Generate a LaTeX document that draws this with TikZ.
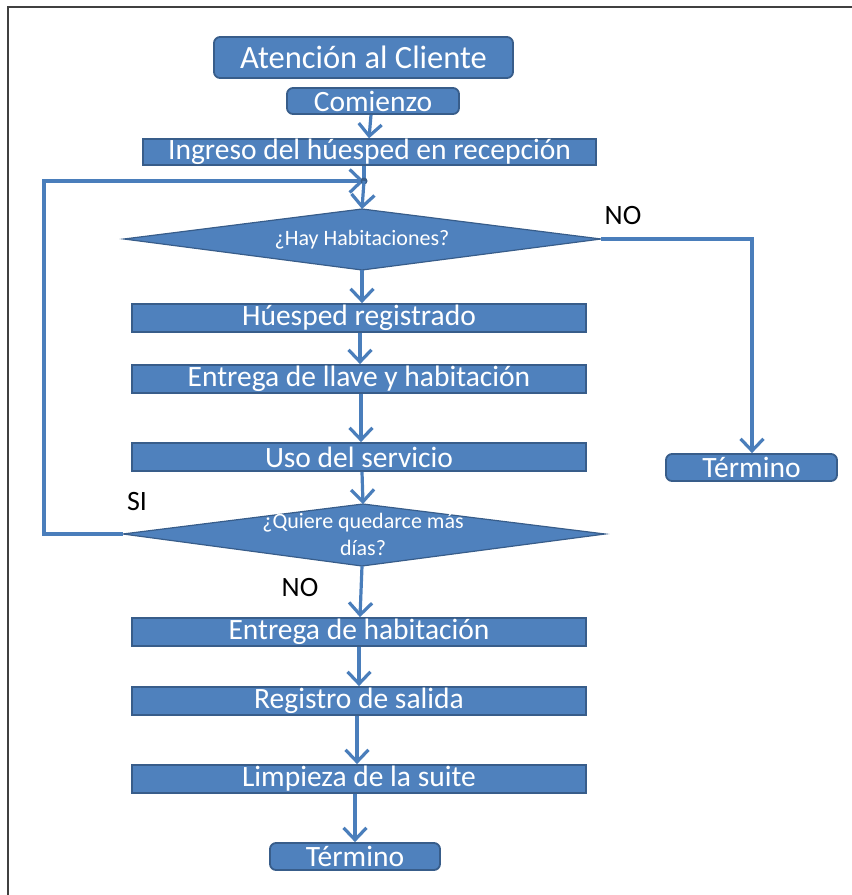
\documentclass[tikz,border=0pt]{standalone}
\usepackage{fontspec}
\setmainfont{Carlito}
\usetikzlibrary{arrows.meta}

\definecolor{boxfill}{HTML}{4F81BD}
\definecolor{boxedge}{HTML}{385D8A}
\definecolor{flow}{HTML}{4A7EBB}
\definecolor{frameline}{HTML}{404040}

\tikzset{
  stepbox/.style={draw=boxedge, line width=1.8pt, fill=boxfill, text=white,
    inner sep=0pt, font=\fontsize{29.5}{30}\selectfont},
  roundbox/.style={stepbox, rounded corners=6pt},
  decision/.style={draw=boxedge, line width=1.2pt, fill=boxfill},
  decisiontext/.style={text=white, align=center, inner sep=0pt,
    font=\fontsize{22}{27}\selectfont},
  answer/.style={text=black, inner sep=0pt, font=\fontsize{28}{30}\selectfont},
  flowline/.style={draw=flow, line width=3.2pt,
    -{Straight Barb[length=12pt, width=23pt, line width=3.2pt]}},
  plainline/.style={draw=flow, line width=3.2pt},
}

\begin{document}
\begin{tikzpicture}[x=1pt, y=-1pt]
  \useasboundingbox (0,0) rectangle (852,895);

  % frame (top and left edges)
  \draw[frameline, line width=2.2pt] (8,895) -- (8,7) -- (852,7);

  % header and start
  \node[roundbox, minimum width=299pt, minimum height=41pt,
        font=\fontsize{32.5}{34}\selectfont] (title) at (363.5,57.5) {Atención al Cliente};
  \node[roundbox, minimum width=172pt, minimum height=26pt] (start) at (373,101) {Comienzo};
  \node[stepbox, minimum width=453pt, minimum height=24pt] (checkin) at (369.5,152) {Ingreso del húesped en recepción};

  % first decision
  \coordinate (d1n) at (362,209);
  \coordinate (d1s) at (362,270);
  \coordinate (d1w) at (124,239);
  \coordinate (d1e) at (601,239);
  \path[decision] (d1n) -- (d1e) -- (d1s) -- (d1w) -- cycle;
  \node[decisiontext] (q1) at (362,240) {¿Hay Habitaciones?};

  % main column
  \node[stepbox, minimum width=454pt, minimum height=28pt] (reg)   at (359,318) {Húesped registrado};
  \node[stepbox, minimum width=454pt, minimum height=28pt] (keys)  at (359,379) {Entrega de llave y habitación};
  \node[stepbox, minimum width=454pt, minimum height=28pt] (use)   at (359,457) {Uso del servicio};

  % second decision
  \coordinate (d2n) at (363,504);
  \coordinate (d2s) at (362,566);
  \coordinate (d2w) at (123,534);
  \coordinate (d2e) at (605,534);
  \path[decision] (d2n) -- (d2e) -- (d2s) -- (d2w) -- cycle;
  \node[decisiontext] (q2) at (363,534) {¿Quiere quedarce más\\días?};

  \node[stepbox, minimum width=454pt, minimum height=28pt] (leave) at (359,632) {Entrega de habitación};
  \node[stepbox, minimum width=454pt, minimum height=28pt] (out)   at (359,701) {Registro de salida};
  \node[stepbox, minimum width=454pt, minimum height=28pt] (clean) at (359,779) {Limpieza de la suite};
  \node[roundbox, minimum width=170pt, minimum height=27pt] (end)   at (355,856.5) {Término};

  % side exit
  \node[roundbox, minimum width=171pt, minimum height=27pt] (endno) at (751.5,467.5) {Término};

  % answer labels
  \node[answer] (no1) at (623,216) {NO};
  \node[answer] (si)  at (137,502) {SI};
  \node[answer] (no2) at (300,588) {NO};

  % junction where the loop rejoins
  \coordinate (join) at (364,181);
  \coordinate (loopA) at (44,534);
  \coordinate (loopB) at (44,181);
  \coordinate (noturn) at (752,239);

  % connectors
  \draw[flowline] (start.south -| 371,0) -- (checkin.north -| 369,0);
  \draw[plainline] (checkin.south -| 364,0) -- (join);
  \draw[flowline] (d2w) -- (loopA) -- (loopB) -- (join);
  \fill[boxedge] (join) circle (3.5pt);
  \draw[flowline] (join) -- (d1n);
  \draw[flowline] (d1e) -- (noturn) -- (endno.north -| noturn);
  \draw[flowline] (d1s) -- (reg.north -| d1s);
  \draw[flowline] (reg.south -| 360,0) -- (keys.north -| 360,0);
  \draw[flowline] (keys.south -| 361,0) -- (use.north -| 361,0);
  \draw[flowline] (use.south -| 362,0) -- (d2n);
  \draw[flowline] (d2s) -- (leave.north -| 360,0);
  \draw[flowline] (leave.south -| 359,0) -- (out.north -| 359,0);
  \draw[flowline] (out.south -| 357,0) -- (clean.north -| 357,0);
  \draw[flowline] (clean.south -| 355,0) -- (end.north -| 355,0);
\end{tikzpicture}
\end{document}
